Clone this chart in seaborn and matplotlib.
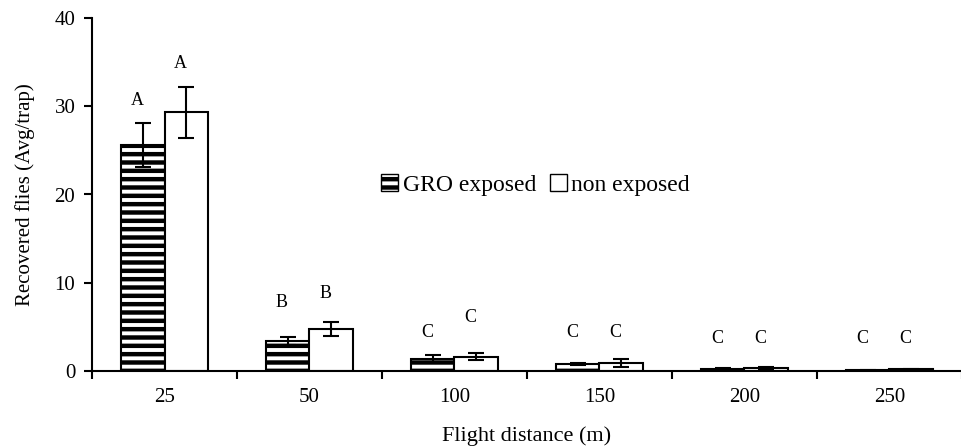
import seaborn as sns
import matplotlib.pyplot as plt
import numpy as np
import pandas as pd
from matplotlib.patches import Patch

distances = ['25', '50', '100', '150', '200', '250']
gro_mean = [25.6, 3.4, 1.4, 0.8, 0.2, 0.1]
gro_err = [2.5, 0.5, 0.4, 0.1, 0.1, 0.05]
non_mean = [29.3, 4.8, 1.6, 0.9, 0.3, 0.2]
non_err = [2.9, 0.8, 0.4, 0.5, 0.2, 0.05]
gro_letters = ['A', 'B', 'C', 'C', 'C', 'C']
non_letters = ['A', 'B', 'C', 'C', 'C', 'C']
gro_letter_y = [30.6, 7.8, 4.4, 4.4, 3.7, 3.7]
non_letter_y = [34.9, 8.8, 6.1, 4.4, 3.7, 3.7]

df = pd.DataFrame({
    'distance': distances * 2,
    'flies': gro_mean + non_mean,
    'group': ['GRO exposed'] * 6 + ['non exposed'] * 6,
})

plt.rcParams['font.family'] = ['Liberation Serif', 'DejaVu Serif']
plt.rcParams['hatch.linewidth'] = 3.2

fig = plt.figure(figsize=(9.62, 4.48), dpi=100)
ax = fig.add_axes([92 / 962, 1 - 371 / 448, 1 - 92 / 962, (371 - 18) / 448])

sns.barplot(data=df, x='distance', y='flies', hue='group', order=distances,
            palette=['white', 'white'], edgecolor='black', linewidth=1.5,
            width=0.6, gap=0, legend=False, ax=ax)

patches = ax.patches[:12]
gro_bars = patches[:6]
non_bars = patches[6:]
for p in gro_bars:
    p.set_hatch('--')

for bars, means, errs, letters, ly in [(gro_bars, gro_mean, gro_err, gro_letters, gro_letter_y),
                                       (non_bars, non_mean, non_err, non_letters, non_letter_y)]:
    xs = [p.get_x() + p.get_width() / 2 for p in bars]
    ax.errorbar(xs, means, yerr=errs, fmt='none', ecolor='black', elinewidth=1.5,
                capsize=6, capthick=1.5)
    for x, l, y in zip(xs, letters, ly):
        ax.text(x - 0.04, y, l, ha='center', va='center', fontsize=13)

ax.set_ylim(0, 40)
ax.set_yticks([0, 10, 20, 30, 40])
ax.set_xlim(-0.5, 5.5)
ax.set_xticks(np.arange(6))
ax.set_xticklabels(distances, fontsize=15)
ax.set_xticks(np.arange(-0.5, 6, 1), minor=True)
ax.tick_params(axis='x', which='major', length=0, pad=12)
ax.tick_params(axis='x', which='minor', length=6, width=1.5, direction='out')
ax.tick_params(axis='y', length=6, width=1.5, labelsize=15, pad=6)
ax.spines[['top', 'right']].set_visible(False)
ax.spines[['left', 'bottom']].set_linewidth(1.5)
ax.set_xlabel('Flight distance (m)', fontsize=16, labelpad=14)
ax.set_ylabel('Recovered flies (Avg/trap)', fontsize=15, labelpad=14)

handles = [Patch(facecolor='white', edgecolor='black', hatch='--', label='GRO exposed'),
           Patch(facecolor='white', edgecolor='black', label='non exposed')]
ax.legend(handles=handles, loc='center', bbox_to_anchor=(0.51, 0.527), ncol=2,
          frameon=False, fontsize=17, handlelength=0.7, handleheight=0.7,
          handletextpad=0.2, columnspacing=0.6)

fig.savefig('out.png', dpi=100)
